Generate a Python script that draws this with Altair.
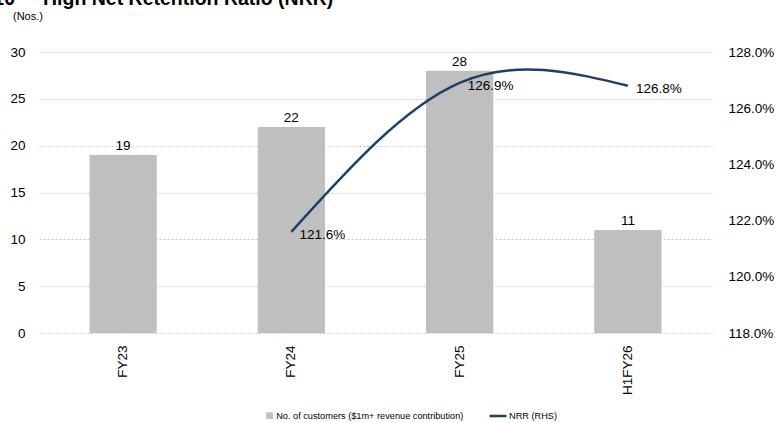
import altair as alt
import pandas as pd

categories = ["FY23", "FY24", "FY25", "H1FY26"]
customers = [19, 22, 28, 11]
nrr_categories = ["FY24", "FY25", "H1FY26"]
nrr_values = [121.6, 126.9, 126.8]

bar_name = "No. of customers ($1m+ revenue contribution)"
line_name = "NRR (RHS)"
title_text = "High Net Retention Ratio (NRR)"
title_num = "10"
unit_text = "(Nos.)"

FONT = "Liberation Sans"
GRAY = "#BFBFBF"
NAVY = "#1F3F66"
AX = 13.5
LEG = 9.2

bars_df = pd.DataFrame({"cat": categories, "val": customers, "series": [bar_name] * 4})
line_df = pd.DataFrame({"cat": nrr_categories, "nrr": nrr_values, "series": [line_name] * 3})

xenc = alt.X("cat:N", sort=categories,
             scale=alt.Scale(paddingInner=0.6, paddingOuter=0.3),
             axis=alt.Axis(title=None, labelAngle=-90, labelAlign="right", labelBaseline="middle",
                           labelPadding=12, ticks=False, domain=False, grid=False,
                           labelFontSize=AX, labelFont=FONT, labelColor="#000000"))

yleft = alt.Y("val:Q", scale=alt.Scale(domain=[0, 30], nice=False),
              axis=alt.Axis(title=None, values=[0, 5, 10, 15, 20, 25, 30], ticks=False, domain=False,
                            grid=True, gridDash=[2, 2], gridColor="#C8C8C8", gridWidth=1,
                            labelPadding=14, labelFontSize=AX, labelFont=FONT, labelColor="#000000"))

base_bar = alt.Chart(bars_df)
bars = base_bar.mark_bar(color=GRAY).encode(
    x=xenc,
    y=yleft,
    fill=alt.Fill("series:N", scale=alt.Scale(domain=[bar_name], range=[GRAY]),
                  legend=alt.Legend(orient="none", legendX=226, legendY=359, title=None,
                                    symbolType="square", symbolSize=45, symbolStrokeWidth=0,
                                    labelFont=FONT, labelFontSize=LEG, labelColor="#000000",
                                    labelOffset=2, labelLimit=0)),
)
bar_labels = base_bar.mark_text(baseline="bottom", dy=-2, fontSize=AX, font=FONT, color="#000000").encode(
    x=alt.X("cat:N", sort=categories),
    y=alt.Y("val:Q"),
    text=alt.Text("val:Q"),
)
left = alt.layer(bars, bar_labels)

yright = alt.Y("nrr:Q", scale=alt.Scale(domain=[118, 128], nice=False),
               axis=alt.Axis(title=None, orient="right", values=[118, 120, 122, 124, 126, 128],
                             labelExpr="format(datum.value, '.1f') + '%'", ticks=False, domain=False,
                             grid=False, labelPadding=16, labelFontSize=AX, labelFont=FONT,
                             labelColor="#000000"))

base_line = alt.Chart(line_df)
line = base_line.mark_line(interpolate="natural", strokeWidth=2.5).encode(
    x=alt.X("cat:N", sort=categories),
    y=yright,
    stroke=alt.Stroke("series:N", scale=alt.Scale(domain=[line_name], range=[NAVY]),
                      legend=alt.Legend(orient="none", legendX=449, legendY=354, title=None,
                                        symbolType="stroke", symbolStrokeWidth=2.5, symbolSize=289,
                                        labelFont=FONT, labelFontSize=LEG, labelColor="#000000",
                                        labelOffset=1, labelLimit=0)),
)
line_labels = base_line.transform_calculate(
    lab="format(datum.nrr, '.1f') + '%'"
).mark_text(align="left", baseline="middle", dx=8, dy=3, fontSize=AX,
            font=FONT, color="#000000").encode(
    x=alt.X("cat:N", sort=categories),
    y=alt.Y("nrr:Q"),
    text="lab:N",
)
right = alt.layer(line, line_labels)

title_df = pd.DataFrame({"t": [title_text]})
title_mark = alt.Chart(title_df).mark_text(align="left", baseline="alphabetic", fontSize=19.5,
                                           fontWeight="bold", font=FONT, color="#000000").encode(
    x=alt.value(4), y=alt.value(-47), text="t:N")
num_df = pd.DataFrame({"t": [title_num]})
num_mark = alt.Chart(num_df).mark_text(align="right", baseline="alphabetic", fontSize=19.5,
                                       fontWeight="bold", font=FONT, color="#000000").encode(
    x=alt.value(-24), y=alt.value(-47), text="t:N")
unit_df = pd.DataFrame({"t": [unit_text]})
unit_mark = alt.Chart(unit_df).mark_text(align="left", baseline="middle", fontSize=11,
                                         font=FONT, color="#000000").encode(
    x=alt.value(-26), y=alt.value(-35), text="t:N")

chart = alt.layer(left, right, title_mark, num_mark, unit_mark).resolve_scale(
    y="independent", fill="independent", stroke="independent"
).properties(
    width=673, height=281,
    background="white",
    autosize=alt.AutoSizeParams(type="none"),
    padding={"left": 39, "top": 52, "right": 65, "bottom": 90},
).configure_view(stroke=None)

chart.save("out.html", embed_options={"renderer": "svg", "actions": False})
